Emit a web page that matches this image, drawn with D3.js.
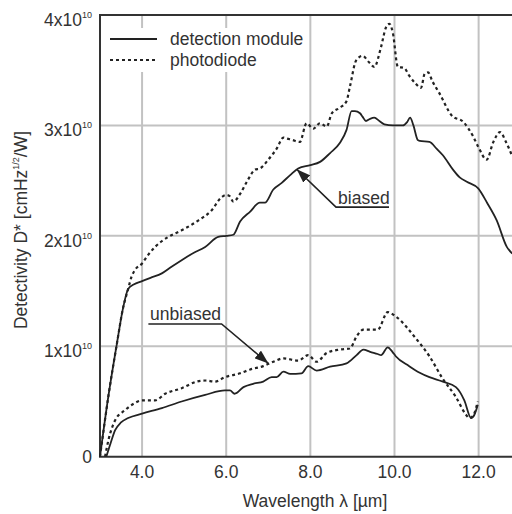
<!DOCTYPE html>
<html>
<head>
<title>Detectivity</title>
<style>
body { margin: 0; background: #fff; }
text { font-family: "Liberation Sans", Arial, sans-serif; fill: #333; }
</style>
<script src="https://d3js.org/d3.v7.min.js"></script>
</head>
<body>
<svg id="chart" width="512" height="514"></svg>
<script>
// wavelength [um], detectivity [x1e10 cmHz^1/2/W]
const biasedModule = [[3.0,0.0],[3.2,0.55],[3.4,1.02],[3.55,1.35],[3.67,1.52],[3.8,1.56],[4.0,1.59],[4.2,1.62],[4.47,1.66],[4.7,1.72],[4.94,1.78],[5.2,1.84],[5.5,1.90],[5.81,1.99],[6.0,2.0],[6.17,2.01],[6.33,2.13],[6.57,2.22],[6.80,2.30],[6.92,2.30],[7.12,2.42],[7.32,2.48],[7.52,2.55],[7.71,2.61],[8.0,2.64],[8.23,2.67],[8.47,2.75],[8.70,2.84],[8.86,2.96],[8.98,3.13],[9.06,3.13],[9.18,3.11],[9.24,3.08],[9.32,3.04],[9.42,3.06],[9.52,3.07],[9.64,3.04],[9.76,3.01],[9.96,3.0],[10.2,3.0],[10.30,3.03],[10.37,3.07],[10.45,3.0],[10.55,2.87],[10.6,2.86],[10.83,2.85],[11.0,2.79],[11.15,2.73],[11.39,2.60],[11.55,2.53],[11.72,2.49],[11.99,2.43],[12.2,2.3],[12.43,2.14],[12.67,1.90],[12.8,1.84]];

const biasedDiode = [[3.0,0.0],[3.2,0.55],[3.4,1.02],[3.55,1.35],[3.67,1.52],[3.75,1.63],[3.83,1.69],[4.0,1.75],[4.15,1.83],[4.31,1.90],[4.62,1.99],[4.94,2.05],[5.34,2.14],[5.65,2.23],[5.89,2.35],[6.0,2.37],[6.08,2.36],[6.17,2.31],[6.33,2.38],[6.49,2.49],[6.69,2.60],[6.80,2.61],[7.0,2.69],[7.20,2.79],[7.36,2.89],[7.45,2.88],[7.56,2.87],[7.75,2.85],[7.91,3.02],[8.07,2.97],[8.23,3.02],[8.39,2.99],[8.51,3.11],[8.70,3.16],[8.86,3.22],[8.94,3.35],[9.09,3.59],[9.24,3.63],[9.4,3.57],[9.52,3.53],[9.68,3.71],[9.80,3.89],[9.88,3.92],[9.96,3.84],[10.08,3.53],[10.23,3.52],[10.35,3.45],[10.50,3.38],[10.63,3.34],[10.72,3.47],[10.80,3.48],[10.9,3.40],[11.07,3.29],[11.36,3.09],[11.64,3.03],[11.87,2.90],[12.0,2.80],[12.19,2.69],[12.35,2.85],[12.51,2.94],[12.65,2.85],[12.8,2.72]];

const unbiasedModule = [[3.15,0.0],[3.25,0.12],[3.36,0.24],[3.5,0.31],[3.67,0.35],[4.0,0.39],[4.47,0.44],[4.94,0.50],[5.5,0.56],[5.97,0.60],[6.09,0.60],[6.2,0.57],[6.41,0.63],[6.64,0.66],[6.88,0.68],[7.08,0.72],[7.2,0.72],[7.36,0.77],[7.52,0.75],[7.79,0.755],[7.95,0.82],[8.15,0.78],[8.47,0.815],[8.86,0.845],[9.10,0.92],[9.26,0.97],[9.42,0.95],[9.6,0.93],[9.68,0.92],[9.84,0.99],[9.95,0.95],[10.03,0.91],[10.35,0.82],[10.6,0.76],[10.83,0.72],[11.15,0.68],[11.46,0.63],[11.66,0.51],[11.82,0.35],[11.9,0.38],[11.98,0.47]];

const unbiasedDiode = [[3.12,0.0],[3.2,0.15],[3.36,0.33],[3.59,0.42],[3.8,0.48],[4.0,0.51],[4.31,0.51],[4.55,0.57],[4.94,0.62],[5.3,0.68],[5.5,0.69],[5.73,0.68],[5.97,0.72],[6.33,0.755],[6.57,0.79],[6.88,0.82],[7.12,0.86],[7.36,0.89],[7.71,0.87],[7.95,0.92],[8.15,0.86],[8.39,0.94],[8.70,0.97],[8.94,0.98],[9.10,1.09],[9.26,1.15],[9.60,1.15],[9.84,1.31],[10.03,1.27],[10.51,1.07],[10.83,0.91],[11.14,0.71],[11.46,0.54],[11.70,0.38],[11.78,0.35],[11.88,0.38],[11.98,0.50]];

const xTicks = [4, 6, 8, 10, 12];
const xTickLabels = ["4.0", "6.0", "8.0", "10.0", "12.0"];
const yTicks = [0, 1, 2, 3, 4];
const yTickLabels = ["0", "1x10", "2x10", "3x10", "4x10"];
const legendLabels = ["detection module", "photodiode"];

const svg = d3.select("#chart");
const LEFT = 100, TOP = 15, BOTTOM = 456.7;
const FS = 17.5;

const x = d3.scaleLinear().domain([3, 13]).range([LEFT, 520.7]);
const y = d3.scaleLinear().domain([0, 4]).range([BOTTOM, TOP]);

// grid
svg.append("g").selectAll("line").data(xTicks).join("line")
   .attr("x1", d => x(d)).attr("x2", d => x(d))
   .attr("y1", TOP).attr("y2", BOTTOM)
   .style("stroke", "#c2c2c2").style("stroke-width", 2);
svg.append("g").selectAll("line").data(yTicks.slice(1, 4)).join("line")
   .attr("x1", LEFT).attr("x2", 520)
   .attr("y1", d => y(d)).attr("y2", d => y(d))
   .style("stroke", "#c2c2c2").style("stroke-width", 2);

// legend background
svg.append("rect").attr("x", LEFT + 2).attr("y", 28).attr("width", 205).attr("height", 44)
   .style("fill", "#fff");

// frame
svg.append("path")
   .attr("d", `M520,${TOP}H${LEFT}V${BOTTOM}H520`)
   .style("fill", "none").style("stroke", "#333").style("stroke-width", 2);

// curves
const line = d3.line().x(d => x(d[0])).y(d => y(d[1])).curve(d3.curveMonotoneX);
const series = [
  { data: biasedModule, dash: null },
  { data: biasedDiode, dash: "3,3" },
  { data: unbiasedModule, dash: null },
  { data: unbiasedDiode, dash: "3,3" }
];
svg.append("g").selectAll("path").data(series).join("path")
   .attr("d", d => line(d.data))
   .style("fill", "none").style("stroke", "#222")
   .style("stroke-width", d => d.dash ? 2.2 : 1.8)
   .style("stroke-dasharray", d => d.dash);

// x tick labels
svg.append("g").selectAll("text").data(xTicks).join("text")
   .attr("x", d => x(d)).attr("y", 478)
   .attr("text-anchor", "middle").style("font-size", FS + "px")
   .text((d, i) => xTickLabels[i]);

// y tick labels
const yl = svg.append("g").selectAll("text").data(yTicks).join("text")
   .attr("x", 92).attr("y", d => d === 0 ? y(d) + 6 : y(d) + 11)
   .attr("text-anchor", "end").style("font-size", FS + "px");
yl.append("tspan").text((d, i) => yTickLabels[i]);
yl.filter(d => d > 0).append("tspan").attr("dy", -8).style("font-size", "9px").text("10");

// axis titles
svg.append("text").attr("x", 315).attr("y", 507).attr("text-anchor", "middle")
   .style("font-size", FS + "px").text("Wavelength \u03bb [\u00b5m]");
const yt = svg.append("text").attr("transform", "translate(27,230) rotate(-90)")
   .attr("text-anchor", "middle").style("font-size", FS + "px");
yt.append("tspan").text("Detectivity D* [cmHz");
yt.append("tspan").attr("dy", -8).style("font-size", "9px").text("1/2");
yt.append("tspan").attr("dy", 8).text("/W]");

// legend
const legY = [39, 60];
svg.append("g").selectAll("line").data(legendLabels).join("line")
   .attr("x1", 110).attr("x2", 157)
   .attr("y1", (d, i) => legY[i]).attr("y2", (d, i) => legY[i])
   .style("stroke", "#222").style("stroke-width", (d, i) => i ? 2.2 : 1.8)
   .style("stroke-dasharray", (d, i) => i ? "3,3" : null);
svg.append("g").selectAll("text").data(legendLabels).join("text")
   .attr("x", 170).attr("y", (d, i) => legY[i] + 6)
   .style("font-size", FS + "px").text(d => d);

// annotations
svg.append("defs").append("marker")
   .attr("id", "arrow").attr("markerUnits", "userSpaceOnUse")
   .attr("viewBox", "0 0 14 10").attr("refX", 14).attr("refY", 5)
   .attr("markerWidth", 14).attr("markerHeight", 10).attr("orient", "auto")
   .append("path").attr("d", "M0,0L14,5L0,10Z").style("fill", "#222");

const notes = [
  { label: "biased", tx: 8.66, ty: 2.287, u0: 8.61, u1: 9.87, uy: 2.26, ax: 7.675, ay: 2.603, from: "start" },
  { label: "unbiased", tx: 4.19, ty: 1.238, u0: 4.15, u1: 5.89, uy: 1.202, ax: 7.005, ay: 0.844, from: "end" }
];
notes.forEach(n => {
  svg.append("text").attr("x", x(n.tx)).attr("y", y(n.ty))
     .style("font-size", FS + "px").text(n.label);
  const sx = n.from === "start" ? x(n.u0) : x(n.u1);
  const other = n.from === "start" ? x(n.u1) : x(n.u0);
  svg.append("path")
     .attr("d", `M${other},${y(n.uy)}H${sx}L${x(n.ax)},${y(n.ay)}`)
     .style("fill", "none").style("stroke", "#222").style("stroke-width", 1.6)
     .attr("marker-end", "url(#arrow)");
});
</script>
</body>
</html>
